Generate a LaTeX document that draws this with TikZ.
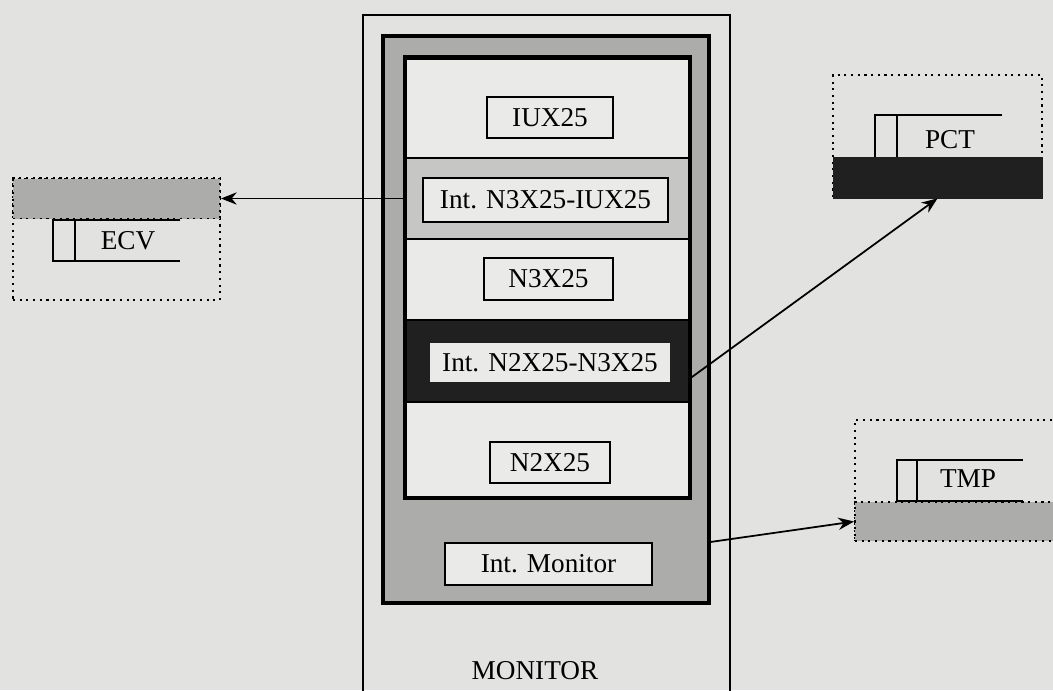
\documentclass[tikz,border=0pt]{standalone}
\usepackage{fontspec}
\setmainfont{Liberation Serif}
\usetikzlibrary{arrows.meta, positioning, calc}

\definecolor{paper}{RGB}{226,226,224}
\definecolor{bandgray}{RGB}{172,172,170}
\definecolor{lightdot}{RGB}{198,198,196}
\definecolor{darkband}{RGB}{32,32,32}
\definecolor{boxfill}{RGB}{234,234,232}

\begin{document}
\begin{tikzpicture}[
        x=0.02cm, y=-0.02cm,
        font=\fontsize{15.5}{18}\selectfont,
        layer/.style={draw, line width=0.7pt, minimum width=5.7cm, inner sep=0pt},
        lbl/.style={draw, line width=0.8pt, fill=boxfill, inner sep=0pt},
        ext/.style={draw, line width=1.1pt, dash pattern=on 1.2pt off 2.6pt, inner sep=0pt},
        tab/.style={line width=1pt},
        conn/.style={line width=1pt},
        >={Stealth[length=9pt, width=7pt]}
    ]

    % ---- paper ----
    \fill[paper] (0,0) rectangle (1053,690);
    \useasboundingbox (0,0) rectangle (1053,690);

    % ---- MONITOR shell ----
    \node[draw, line width=1pt, minimum width=7.34cm, minimum height=13.7cm, inner sep=0pt] (monitor) at (546.5,357.5) {};
    \node[draw, line width=1.8pt, fill=bandgray, minimum width=6.52cm, minimum height=11.34cm, inner sep=0pt] (shell) at (546,319.5) {};

    % ---- protocol stack ----
    \node[layer, fill=boxfill, minimum height=2.02cm] (sec1) at (547.5,107.5) {};
    \node[layer, fill=lightdot, minimum height=1.62cm] (sec2) at (547.5,198.5) {};
    \node[layer, fill=boxfill, minimum height=1.62cm] (sec3) at (547.5,279.5) {};
    \node[layer, fill=darkband, minimum height=1.64cm] (sec4) at (547.5,361) {};
    \node[layer, fill=boxfill, minimum height=1.92cm] (sec5) at (547.5,450) {};
    \node[draw, line width=2.8pt, minimum width=5.7cm, minimum height=8.82cm, inner sep=0pt] (stack) at (547.5,277.5) {};

    % ---- layer labels ----
    \node[lbl, minimum width=2.52cm, minimum height=0.82cm] (iux) at (550,117.5) {IUX25};
    \node[lbl, minimum width=4.9cm, minimum height=0.88cm] (int3) at (545.5,200) {Int. N3X25-IUX25};
    \node[lbl, minimum width=2.58cm, minimum height=0.84cm] (n3) at (548.5,279) {N3X25};
    \node[lbl, draw=none, minimum width=4.8cm, minimum height=0.78cm] (int2) at (550,362.5) {Int. N2X25-N3X25};
    \node[lbl, minimum width=2.4cm, minimum height=0.82cm] (n2) at (550,462.5) {N2X25};
    \node[lbl, minimum width=4.14cm, minimum height=0.84cm] (intmon) at (548.5,564) {Int. Monitor};
    \node (montxt) at (535,671) {MONITOR};

    % ---- ECV ----
    \node[ext, minimum width=4.14cm, minimum height=2.44cm] (ecv) at (116.5,239) {};
    \node[ext, fill=bandgray, minimum width=4.14cm, minimum height=0.8cm] (ecvband) at (116.5,198.5) {};
    \draw[tab] (180,220) -- (53,220) -- (53,261) -- (180,261);
    \draw[tab] (75,220) -- (75,261);
    \node (ecvtxt) at (128,241) {ECV};

    % ---- PCT ----
    \node[ext, minimum width=4.18cm, minimum height=2.46cm] (pct) at (937.5,136.5) {};
    \node[draw=darkband, fill=darkband, minimum width=4.18cm, minimum height=0.82cm, inner sep=0pt] (pctband) at (937.5,177.5) {};
    \draw[tab] (1002,115) -- (875,115) -- (875,157);
    \draw[tab] (897,115) -- (897,157);
    \node (pcttxt) at (950,140) {PCT};

    % ---- TMP ----
    \node[ext, minimum width=4.1cm, minimum height=2.42cm] (tmp) at (957.5,480.5) {};
    \node[ext, fill=bandgray, minimum width=4.1cm, minimum height=0.78cm] (tmpband) at (957.5,521.5) {};
    \draw[tab] (1023,460) -- (897,460) -- (897,501) -- (1023,501);
    \draw[tab] (917,460) -- (917,501);
    \node (tmptxt) at (968,479) {TMP};

    % ---- links to the outside ----
    \draw[->, conn] (sec2.west) -- (ecvband.east);
    \draw[->, conn] ($(sec4.east)+(0,17)$) -- (pctband.south);
    \draw[->, conn] (shell.east |- tmpband.south) -- (tmpband.west);

\end{tikzpicture}
\end{document}
